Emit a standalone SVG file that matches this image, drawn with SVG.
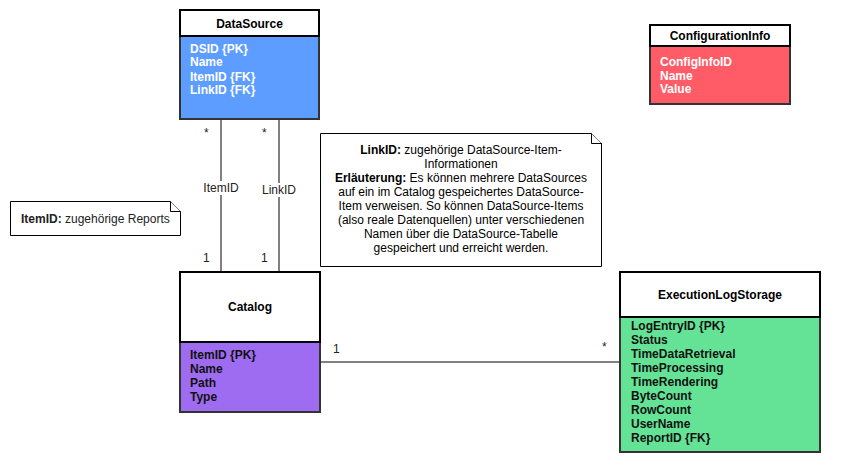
<svg xmlns="http://www.w3.org/2000/svg" width="845" height="472" viewBox="0 0 845 472">
<style>
text{font-family:"Liberation Sans",Arial,sans-serif;}
.hdr{fill:#ffffff;stroke:#000000;stroke-width:2;}
.body{stroke:#333333;stroke-width:2;}
.title{font-size:12px;font-weight:bold;fill:#000000;text-anchor:middle;}
.attrw{font-size:12px;font-weight:bold;fill:#ffffff;}
.attrd{font-size:12px;font-weight:bold;fill:#111111;}
.conn{stroke:#808080;stroke-width:2;fill:none;}
.lbl{font-size:12px;fill:#222222;}
.note{fill:#ffffff;stroke:#000000;stroke-width:1;}
.ntxt{font-size:12px;fill:#000000;text-anchor:middle;}
</style>
<g id="connectors">
<line class="conn" x1="221" y1="120" x2="221" y2="272"/>
<line class="conn" x1="279" y1="120" x2="279" y2="272"/>
<line class="conn" x1="320" y1="362" x2="620" y2="362"/>
<text class="lbl" x="204" y="137">*</text>
<text class="lbl" x="262" y="137">*</text>
<rect x="202" y="181" width="38" height="14" fill="#ffffff"/>
<text class="lbl" x="221" y="192" text-anchor="middle">ItemID</text>
<rect x="260" y="183" width="38" height="14" fill="#ffffff"/>
<text class="lbl" x="279" y="194" text-anchor="middle">LinkID</text>
<text class="lbl" x="203" y="262">1</text>
<text class="lbl" x="261" y="262">1</text>
<text class="lbl" x="333" y="353">1</text>
<text class="lbl" x="602" y="351">*</text>
</g>
<g id="DataSource">
<rect class="body" x="180" y="36" width="139" height="83" fill="#5C9DFF"/>
<rect class="hdr" x="180" y="10" width="139" height="26"/>
<text class="title" x="249.5" y="28">DataSource</text>
<text class="attrw" x="190" y="53">DSID {PK}</text>
<text class="attrw" x="190" y="66">Name</text>
<text class="attrw" x="190" y="81">ItemID {FK}</text>
<text class="attrw" x="190" y="94">LinkID {FK}</text>
</g>
<g id="ConfigurationInfo">
<rect class="body" x="650" y="46" width="140" height="58" fill="#FF5C68"/>
<rect class="hdr" x="650" y="25" width="140" height="21"/>
<text class="title" x="720" y="40">ConfigurationInfo</text>
<text class="attrw" x="660" y="66">ConfigInfoID</text>
<text class="attrw" x="660" y="80">Name</text>
<text class="attrw" x="660" y="93">Value</text>
</g>
<g id="Catalog">
<rect class="body" x="180" y="342" width="140" height="70" fill="#9E6CF0"/>
<rect class="hdr" x="180" y="272" width="140" height="70"/>
<text class="title" x="250" y="311">Catalog</text>
<text class="attrd" x="190" y="359">ItemID {PK}</text>
<text class="attrd" x="190" y="373">Name</text>
<text class="attrd" x="190" y="387">Path</text>
<text class="attrd" x="190" y="401">Type</text>
</g>
<g id="ExecutionLogStorage">
<rect class="body" x="620" y="317" width="200" height="135" fill="#64E396"/>
<rect class="hdr" x="620" y="272" width="200" height="45"/>
<text class="title" x="720" y="299">ExecutionLogStorage</text>
<text class="attrd" x="631" y="330">LogEntryID {PK}</text>
<text class="attrd" x="631" y="344">Status</text>
<text class="attrd" x="631" y="358">TimeDataRetrieval</text>
<text class="attrd" x="631" y="372">TimeProcessing</text>
<text class="attrd" x="631" y="386">TimeRendering</text>
<text class="attrd" x="631" y="400">ByteCount</text>
<text class="attrd" x="631" y="414">RowCount</text>
<text class="attrd" x="631" y="428">UserName</text>
<text class="attrd" x="631" y="442">ReportID {FK}</text>
</g>
<g id="NoteLinkID">
<path class="note" d="M320.5,133.5 H591.5 L601.5,143.5 V266.5 H320.5 Z"/>
<path class="note" d="M591.5,133.5 V143.5 H601.5" fill="none"/>
<text class="ntxt" x="461" y="154"><tspan font-weight="bold">LinkID:</tspan> zugehörige DataSource-Item-</text>
<text class="ntxt" x="461" y="168">Informationen</text>
<text class="ntxt" x="461" y="182"><tspan font-weight="bold">Erläuterung:</tspan> Es können mehrere DataSources</text>
<text class="ntxt" x="461" y="196">auf ein im Catalog gespeichertes DataSource-</text>
<text class="ntxt" x="461" y="210">Item verweisen. So können DataSource-Items</text>
<text class="ntxt" x="461" y="224">(also reale Datenquellen) unter verschiedenen</text>
<text class="ntxt" x="461" y="238">Namen über die DataSource-Tabelle</text>
<text class="ntxt" x="461" y="252">gespeichert und erreicht werden.</text>
</g>
<g id="NoteItemID">
<path class="note" d="M10.5,201.5 H170.5 L180.5,211.5 V235.5 H10.5 Z"/>
<path class="note" d="M170.5,201.5 V211.5 H180.5" fill="none"/>
<text class="lbl" x="21" y="223" fill="#000000"><tspan font-weight="bold">ItemID:</tspan> zugehörige Reports</text>
</g>
</svg>
